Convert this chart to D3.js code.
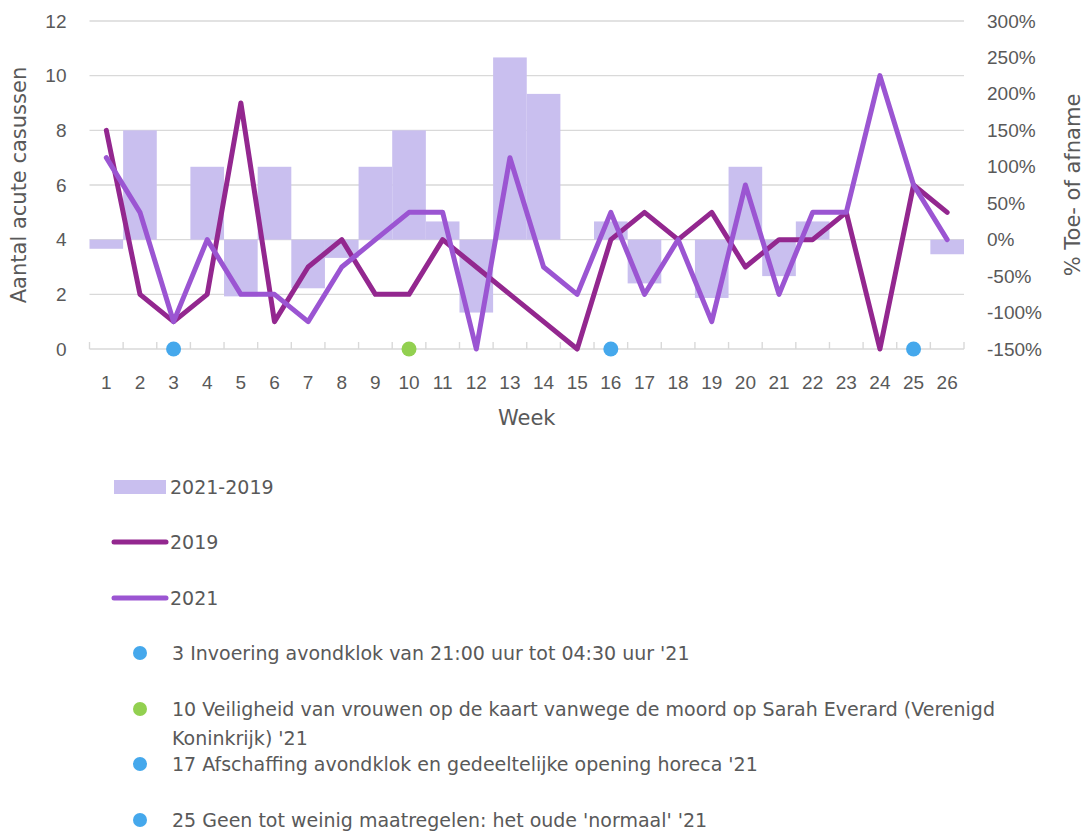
<!doctype html>
<html>
<head>
<meta charset="utf-8"/>
<style>
  html, body { margin: 0; padding: 0; background: #fff; }
  svg { display: block; font-family: "DejaVu Sans", sans-serif; }
  .tick text { fill: #595959; font-size: 19px; }
  .lbl { fill: #595959; }
</style>
<script src="https://d3js.org/d3.v7.min.js"></script>
</head>
<body>
<svg width="1084" height="832"></svg>
<script>
// weekly counts of acute cases, 2019 vs 2021, and % change
var weeks = [1,2,3,4,5,6,7,8,9,10,11,12,13,14,15,16,17,18,19,20,21,22,23,24,25,26];
var cases2019 = [8,2,1,2,9,1,3,4,2,2,4,3,2,1,0,4,5,4,5,3,4,4,5,0,6,5];
var cases2021 = [7,5,1,4,2,2,1,3,4,5,5,0,7,3,2,5,2,4,1,6,2,5,5,10,6,4];
var diffPct = [-12.5,150,0,100,-77.8,100,-66.7,-25,100,150,25,-100,250,200,null,25,-60,0,-80,100,-50,25,0,null,0,-20];
var leftTicks = [0,2,4,6,8,10,12];
var rightTicks = [-150,-100,-50,0,50,100,150,200,250,300];
var eventWeeks = [3,10,16,25];
var eventColors = ["#45a8ec","#92d050","#45a8ec","#45a8ec"];
var eventLabels = [
  ["3 Invoering avondklok van 21:00 uur tot 04:30 uur '21"],
  ["10 Veiligheid van vrouwen op de kaart vanwege de moord op Sarah Everard (Verenigd", "Koninkrijk) '21"],
  ["17 Afschaffing avondklok en gedeeltelijke opening horeca '21"],
  ["25 Geen tot weinig maatregelen: het oude 'normaal' '21"]
];

var colBar = "#c9bfef", col2019 = "#93278f", col2021 = "#9b55d2", grid = "#d9d9d9";

var svg = d3.select("svg");
var pL = 89.5, pR = 964, pT = 21, pB = 349;

var x = d3.scaleBand().domain(weeks).range([pL, pR]).padding(0);
var yL = d3.scaleLinear().domain([0, 12]).range([pB, pT]);
var yR = d3.scaleLinear().domain([-150, 300]).range([pB, pT]);
var cx = function(w) { return x(w) + x.bandwidth() / 2; };

// gridlines
svg.append("g").selectAll("line").data(leftTicks).enter().append("line")
    .attr("x1", pL).attr("x2", pR)
    .attr("y1", function(d) { return yL(d); }).attr("y2", function(d) { return yL(d); })
    .attr("stroke", grid).attr("stroke-width", 1.4);

// bars (% change, right axis)
svg.append("g").selectAll("rect")
    .data(weeks.map(function(w, i) { return {w: w, v: diffPct[i]}; }).filter(function(d) { return d.v !== null && d.v !== 0; }))
    .enter().append("rect")
    .attr("x", function(d) { return x(d.w); })
    .attr("width", x.bandwidth())
    .attr("y", function(d) { return Math.min(yR(d.v), yR(0)); })
    .attr("height", function(d) { return Math.abs(yR(d.v) - yR(0)); })
    .attr("fill", colBar);

// x tick marks at band boundaries
var bounds = weeks.map(function(w) { return x(w); }).concat([x.range()[1]]);
svg.append("g").selectAll("line").data(bounds).enter().append("line")
    .attr("x1", function(d) { return d; }).attr("x2", function(d) { return d; })
    .attr("y1", pB - 7).attr("y2", pB)
    .attr("stroke", grid).attr("stroke-width", 1.4);

// axes labels
svg.append("g").attr("transform", "translate(" + pL + ",0)")
    .call(d3.axisLeft(yL).tickValues(leftTicks).tickSize(0).tickPadding(23))
    .call(function(g) { g.select(".domain").remove(); });

svg.append("g").attr("transform", "translate(" + pR + ",0)")
    .call(d3.axisRight(yR).tickValues(rightTicks).tickFormat(function(d) { return d + "%"; }).tickSize(0).tickPadding(23))
    .call(function(g) { g.select(".domain").remove(); });

svg.append("g").attr("transform", "translate(0," + pB + ")")
    .call(d3.axisBottom(x).tickSize(0).tickPadding(27))
    .call(function(g) { g.select(".domain").remove(); });

svg.append("text").attr("class", "lbl")
    .attr("transform", "translate(26,185) rotate(-90)")
    .attr("text-anchor", "middle").attr("font-size", 21)
    .text("Aantal acute casussen");

svg.append("text").attr("class", "lbl")
    .attr("transform", "translate(1080,185) rotate(-90)")
    .attr("text-anchor", "middle").attr("font-size", 21)
    .text("% Toe- of afname");

svg.append("text").attr("class", "lbl")
    .attr("x", (pL + pR) / 2).attr("y", 425)
    .attr("text-anchor", "middle").attr("font-size", 21)
    .text("Week");

// lines
var line = function(vals) {
  return d3.line().x(function(d, i) { return cx(weeks[i]); }).y(function(d) { return yL(d); })(vals);
};
[[cases2019, col2019], [cases2021, col2021]].forEach(function(s) {
  svg.append("path").attr("d", line(s[0]))
      .attr("fill", "none").attr("stroke", s[1]).attr("stroke-width", 5)
      .attr("stroke-linejoin", "round").attr("stroke-linecap", "round");
});

// event markers
svg.append("g").selectAll("circle").data(eventWeeks).enter().append("circle")
    .attr("cx", function(d) { return cx(d); }).attr("cy", yL(0))
    .attr("r", 7.5).attr("fill", function(d, i) { return eventColors[i]; });

// legend
var lg = svg.append("g").attr("font-size", 19);
lg.append("rect").attr("x", 114).attr("y", 480).attr("width", 52).attr("height", 14).attr("fill", colBar);
lg.append("text").attr("class", "lbl").attr("x", 170).attr("y", 487).attr("dy", "0.35em").text("2021-2019");
[[col2019, "2019", 542], [col2021, "2021", 598]].forEach(function(s) {
  lg.append("line").attr("x1", 114).attr("x2", 166).attr("y1", s[2]).attr("y2", s[2])
      .attr("stroke", s[0]).attr("stroke-width", 5).attr("stroke-linecap", "round");
  lg.append("text").attr("class", "lbl").attr("x", 170).attr("y", s[2]).attr("dy", "0.35em").text(s[1]);
});
var evY = [653, 709, 764, 820];
eventLabels.forEach(function(lines, i) {
  lg.append("circle").attr("cx", 140).attr("cy", evY[i]).attr("r", 7).attr("fill", eventColors[i]);
  lines.forEach(function(t, j) {
    lg.append("text").attr("class", "lbl").attr("x", 172).attr("y", evY[i] + j * 29).attr("dy", "0.35em").text(t);
  });
});
</script>
</body>
</html>
